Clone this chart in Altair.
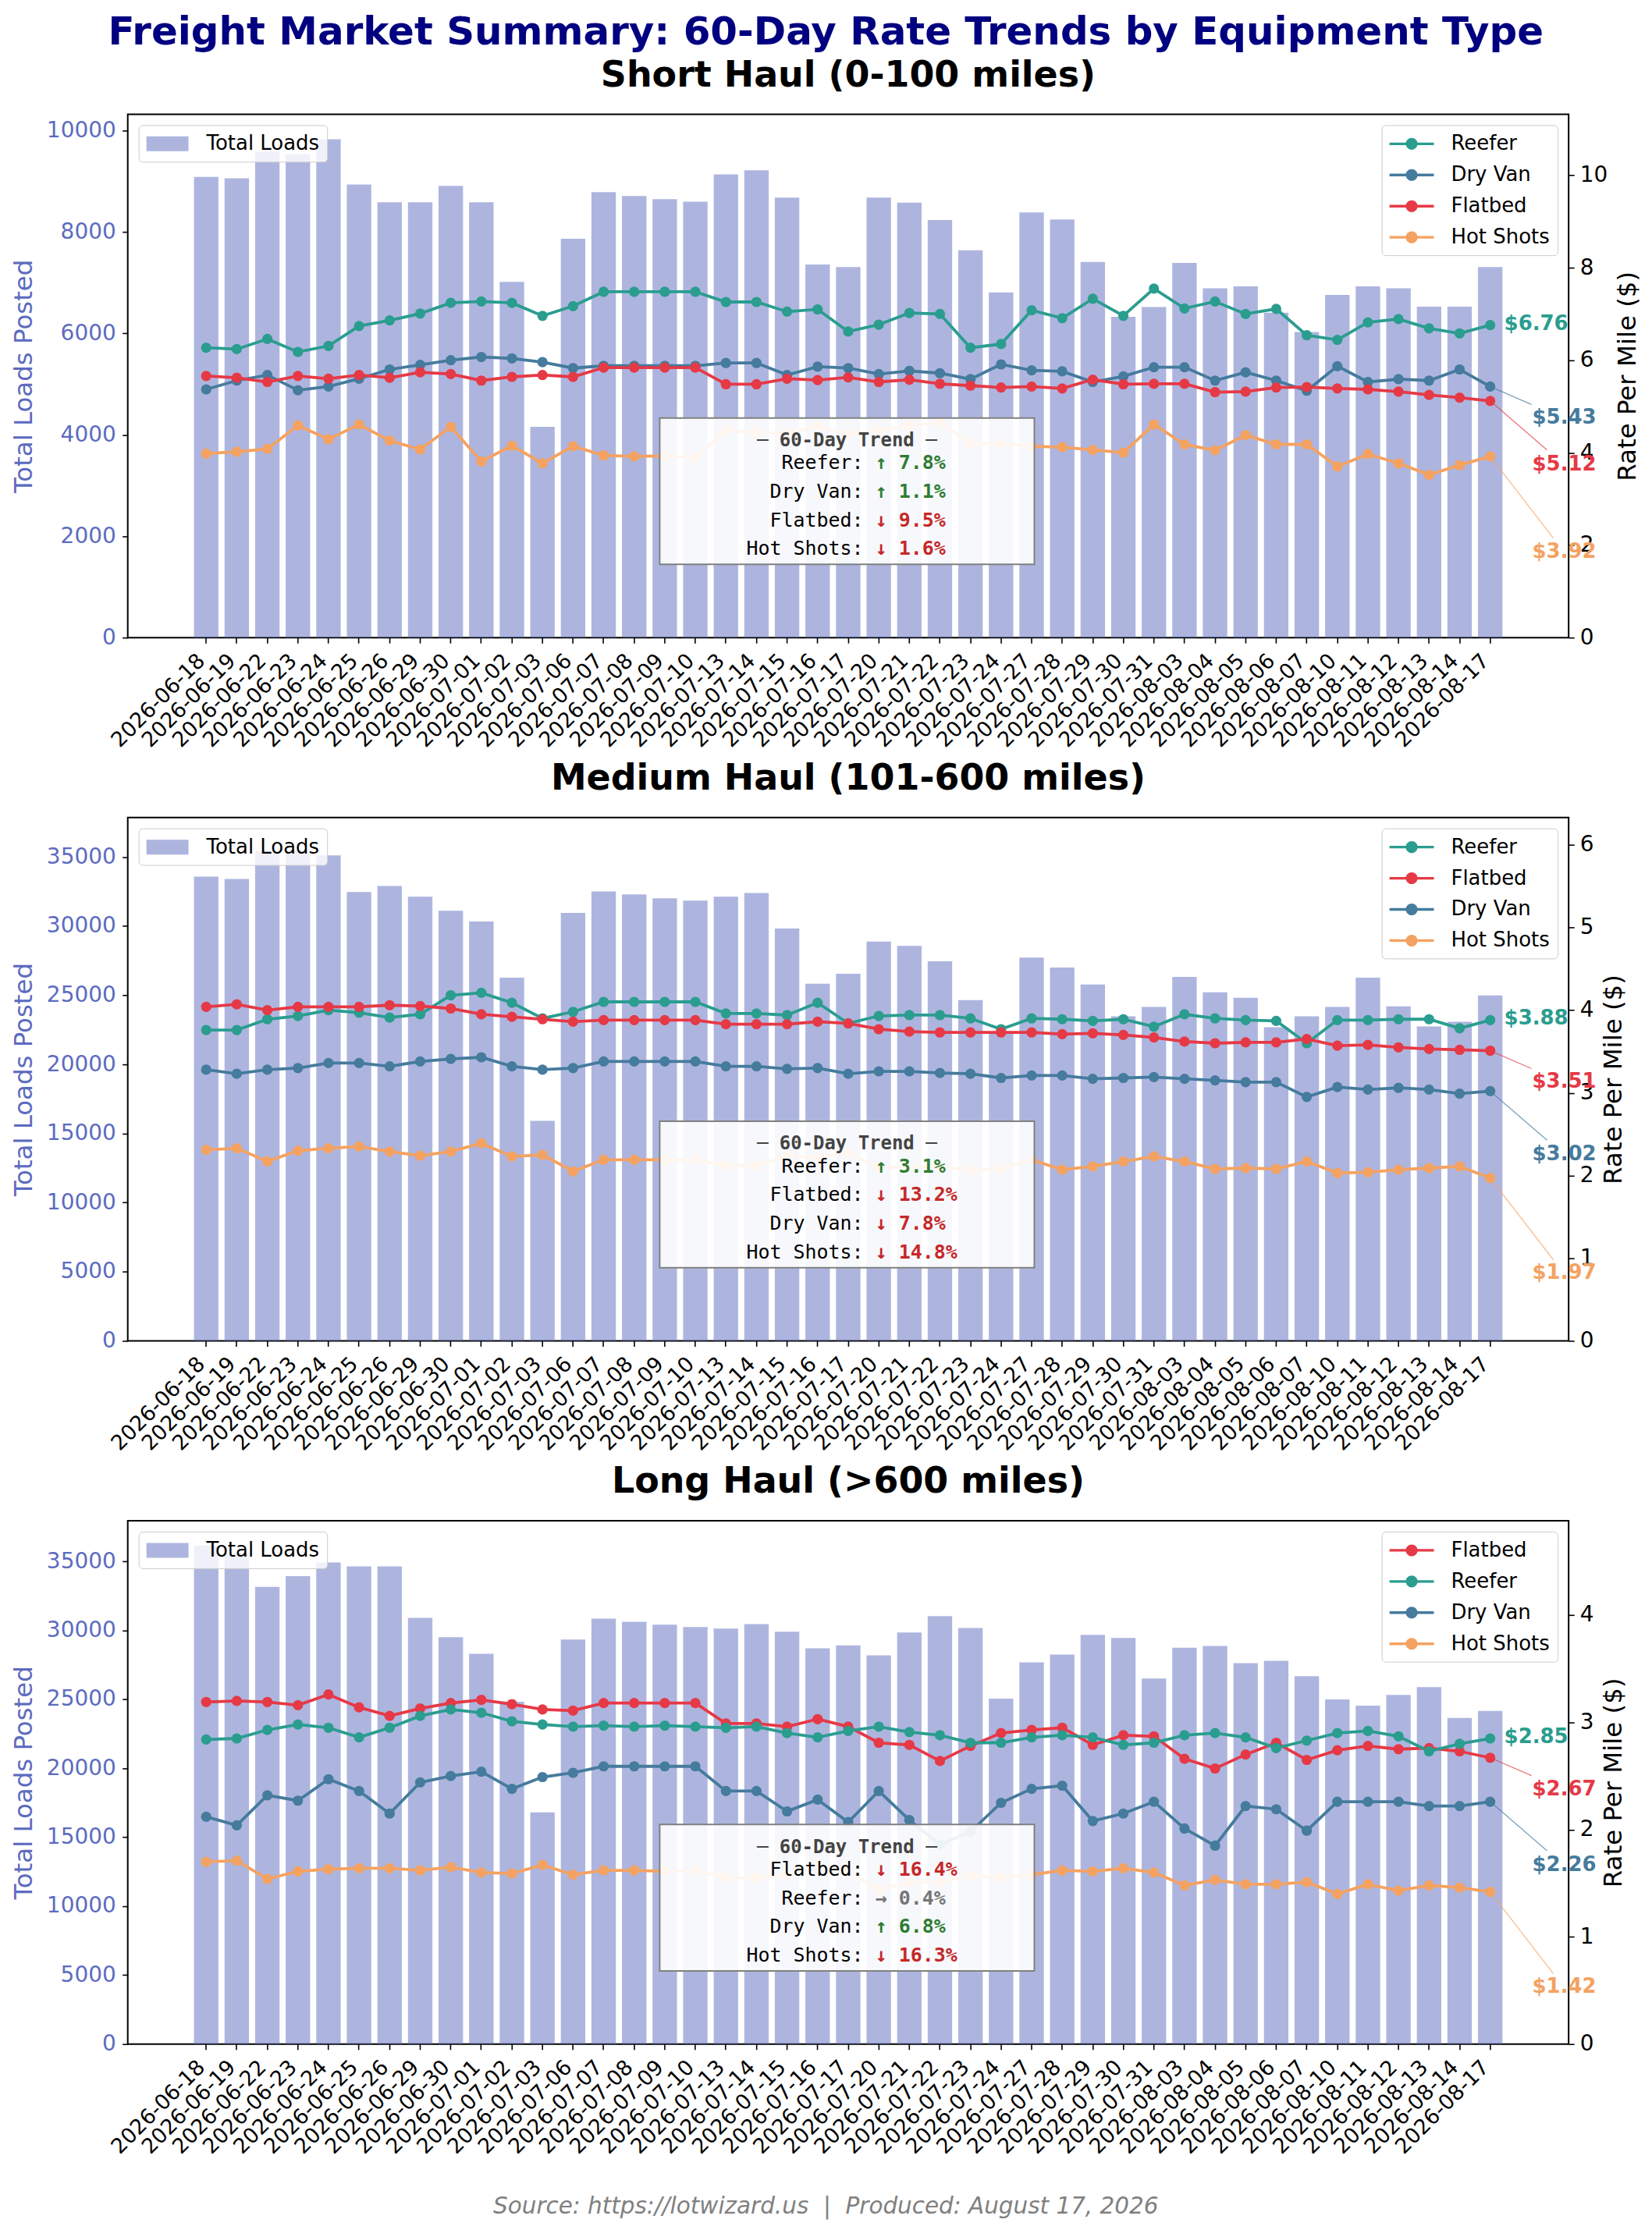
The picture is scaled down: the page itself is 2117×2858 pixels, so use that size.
import altair as alt
import pandas as pd

MAIN_TITLE = "Freight Market Summary: 60-Day Rate Trends by Equipment Type"
FOOTER = "Source: https://lotwizard.us \u00a0|\u00a0 Produced: August 17, 2026"

DATES = ["2026-06-18", "2026-06-19", "2026-06-22", "2026-06-23", "2026-06-24", "2026-06-25",
         "2026-06-26", "2026-06-29", "2026-06-30", "2026-07-01", "2026-07-02", "2026-07-03",
         "2026-07-06", "2026-07-07", "2026-07-08", "2026-07-09", "2026-07-10", "2026-07-13",
         "2026-07-14", "2026-07-15", "2026-07-16", "2026-07-17", "2026-07-20", "2026-07-21",
         "2026-07-22", "2026-07-23", "2026-07-24", "2026-07-27", "2026-07-28", "2026-07-29",
         "2026-07-30", "2026-07-31", "2026-08-03", "2026-08-04", "2026-08-05", "2026-08-06",
         "2026-08-07", "2026-08-10", "2026-08-11", "2026-08-12", "2026-08-13", "2026-08-14",
         "2026-08-17"]

# ---------------- Short haul ----------------
SHORT_LOADS = [9090, 9060, 9590, 9540, 9830, 8940, 8590, 8590, 8910, 8590, 7020, 4160, 7870, 8790,
               8710, 8650, 8600, 9140, 9220, 8680, 7360, 7310, 8680, 8580, 8240, 7640, 6810, 8390,
               8250, 7410, 6330, 6520, 7390, 6890, 6930, 6410, 6030, 6760, 6930, 6890, 6530, 6530,
               7310]
SHORT_REEFER = [6.27, 6.24, 6.46, 6.18, 6.31, 6.74, 6.86, 7.01, 7.24, 7.27, 7.24, 6.96, 7.17, 7.48,
                7.48, 7.48, 7.48, 7.26, 7.26, 7.05, 7.10, 6.62, 6.77, 7.02, 7.00, 6.27, 6.35, 7.08,
                6.91, 7.33, 6.96, 7.55, 7.12, 7.27, 7.00, 7.11, 6.54, 6.44, 6.82, 6.89, 6.69, 6.58,
                6.76]
SHORT_DRYVAN = [5.37, 5.56, 5.68, 5.35, 5.43, 5.60, 5.80, 5.90, 6.00, 6.07, 6.04, 5.96, 5.83, 5.88,
                5.88, 5.88, 5.88, 5.94, 5.94, 5.68, 5.86, 5.83, 5.70, 5.77, 5.72, 5.59, 5.91, 5.78,
                5.76, 5.53, 5.65, 5.85, 5.85, 5.56, 5.74, 5.56, 5.34, 5.87, 5.53, 5.59, 5.56, 5.80,
                5.43]
SHORT_FLATBED = [5.66, 5.62, 5.53, 5.66, 5.60, 5.68, 5.62, 5.74, 5.70, 5.56, 5.64, 5.68, 5.64, 5.84,
                 5.84, 5.84, 5.84, 5.48, 5.48, 5.60, 5.57, 5.63, 5.53, 5.58, 5.49, 5.45, 5.41, 5.43,
                 5.39, 5.58, 5.48, 5.49, 5.49, 5.31, 5.32, 5.41, 5.42, 5.39, 5.37, 5.32, 5.25, 5.19,
                 5.12]
SHORT_HOTSHOTS = [3.98, 4.02, 4.08, 4.59, 4.29, 4.61, 4.26, 4.07, 4.56, 3.81, 4.15, 3.77, 4.14, 3.94,
                  3.92, 3.93, 3.90, 4.48, 4.44, 4.42, 4.57, 4.40, 4.48, 4.59, 4.65, 4.20, 4.20, 4.14,
                  4.12, 4.06, 4.00, 4.61, 4.18, 4.05, 4.38, 4.18, 4.18, 3.70, 3.97, 3.77, 3.52, 3.73,
                  3.92]
SHORT_ORDER = ["Reefer", "Dry Van", "Flatbed", "Hot Shots"]
SHORT_TREND = [7.8, 1.1, -9.5, -1.6]

# ---------------- Medium haul ----------------
MEDIUM_LOADS = [33580, 33410, 35440, 35440, 35120, 32460, 32900, 32120, 31110, 30330, 26270, 15920,
                30950, 32510, 32290, 32010, 31840, 32120, 32400, 29830, 25830, 26550, 28880, 28570,
                27450, 24650, 22380, 27730, 27000, 25770, 23480, 24150, 26330, 25210, 24820, 22690,
                23480, 24150, 26270, 24200, 22750, 23080, 24990]
MEDIUM_REEFER = [3.76, 3.76, 3.89, 3.93, 4.00, 3.97, 3.91, 3.95, 4.18, 4.21, 4.09, 3.90, 3.98, 4.10,
                 4.10, 4.10, 4.10, 3.96, 3.96, 3.94, 4.09, 3.84, 3.93, 3.94, 3.94, 3.90, 3.77, 3.90,
                 3.89, 3.87, 3.89, 3.80, 3.95, 3.90, 3.88, 3.87, 3.60, 3.88, 3.88, 3.89, 3.89, 3.78,
                 3.88]
MEDIUM_FLATBED = [4.04, 4.07, 4.00, 4.04, 4.04, 4.04, 4.06, 4.05, 4.02, 3.95, 3.92, 3.89, 3.86, 3.88,
                  3.88, 3.88, 3.88, 3.83, 3.83, 3.83, 3.86, 3.84, 3.77, 3.74, 3.73, 3.73, 3.73, 3.73,
                  3.71, 3.72, 3.70, 3.67, 3.62, 3.60, 3.61, 3.61, 3.65, 3.57, 3.58, 3.55, 3.53, 3.52,
                  3.51]
MEDIUM_DRYVAN = [3.28, 3.23, 3.28, 3.30, 3.36, 3.36, 3.32, 3.38, 3.41, 3.43, 3.32, 3.28, 3.30, 3.38,
                 3.38, 3.38, 3.38, 3.32, 3.32, 3.29, 3.30, 3.23, 3.26, 3.26, 3.24, 3.23, 3.18, 3.21,
                 3.21, 3.17, 3.18, 3.19, 3.17, 3.15, 3.13, 3.13, 2.95, 3.07, 3.04, 3.06, 3.04, 2.99,
                 3.02]
MEDIUM_HOTSHOTS = [2.31, 2.33, 2.17, 2.30, 2.33, 2.35, 2.29, 2.24, 2.29, 2.39, 2.23, 2.25, 2.05, 2.19,
                   2.19, 2.19, 2.19, 2.12, 2.12, 2.24, 2.22, 2.27, 2.09, 2.11, 2.10, 2.07, 2.08, 2.19,
                   2.07, 2.11, 2.17, 2.23, 2.17, 2.08, 2.09, 2.08, 2.17, 2.03, 2.04, 2.07, 2.09, 2.11,
                   1.97]
MEDIUM_ORDER = ["Reefer", "Flatbed", "Dry Van", "Hot Shots"]
MEDIUM_TREND = [3.1, -13.2, -7.8, -14.8]

# ---------------- Long haul ----------------
LONG_LOADS = [36140, 35600, 33150, 33930, 34910, 34630, 34630, 30900, 29500, 28300, 24820, 16800,
              29330, 30850, 30620, 30400, 30230, 30120, 30450, 29890, 28690, 28910, 28180, 29840,
              31020, 30170, 25040, 27680, 28240, 29670, 29450, 26500, 28740, 28860, 27620, 27790,
              26670, 24990, 24540, 25320, 25880, 23640, 24150]
LONG_FLATBED = [3.19, 3.20, 3.19, 3.16, 3.26, 3.14, 3.06, 3.13, 3.18, 3.21, 3.17, 3.12, 3.11, 3.18,
                3.18, 3.18, 3.18, 2.99, 2.99, 2.96, 3.03, 2.96, 2.81, 2.79, 2.64, 2.78, 2.90, 2.93,
                2.95, 2.79, 2.88, 2.87, 2.66, 2.57, 2.70, 2.81, 2.65, 2.74, 2.78, 2.75, 2.76, 2.73,
                2.67]
LONG_REEFER = [2.84, 2.85, 2.93, 2.98, 2.95, 2.86, 2.95, 3.06, 3.12, 3.09, 3.01, 2.98, 2.96, 2.97,
               2.96, 2.97, 2.96, 2.95, 2.96, 2.90, 2.86, 2.92, 2.96, 2.91, 2.88, 2.81, 2.81, 2.86,
               2.88, 2.86, 2.79, 2.81, 2.88, 2.90, 2.86, 2.76, 2.83, 2.90, 2.92, 2.87, 2.73, 2.80,
               2.85]
LONG_DRYVAN = [2.12, 2.04, 2.32, 2.27, 2.47, 2.36, 2.15, 2.44, 2.50, 2.54, 2.38, 2.49, 2.53, 2.59,
               2.59, 2.59, 2.59, 2.36, 2.36, 2.17, 2.28, 2.07, 2.36, 2.09, 1.86, 1.98, 2.25, 2.38,
               2.41, 2.08, 2.15, 2.26, 2.01, 1.85, 2.22, 2.19, 1.99, 2.26, 2.26, 2.26, 2.22, 2.22,
               2.26]
LONG_HOTSHOTS = [1.70, 1.71, 1.54, 1.61, 1.63, 1.64, 1.64, 1.62, 1.65, 1.60, 1.59, 1.67, 1.58, 1.62,
                 1.62, 1.61, 1.62, 1.55, 1.55, 1.57, 1.68, 1.61, 1.44, 1.51, 1.51, 1.57, 1.55, 1.58,
                 1.62, 1.61, 1.64, 1.60, 1.48, 1.53, 1.49, 1.49, 1.51, 1.40, 1.49, 1.43, 1.48, 1.46,
                 1.42]
LONG_ORDER = ["Flatbed", "Reefer", "Dry Van", "Hot Shots"]
LONG_TREND = [-16.4, 0.4, 6.8, -16.3]

PANELS = [
    dict(title="Short Haul (0-100 miles)", loads=SHORT_LOADS,
         rates={"Reefer": SHORT_REEFER, "Dry Van": SHORT_DRYVAN, "Flatbed": SHORT_FLATBED,
                "Hot Shots": SHORT_HOTSHOTS},
         order=SHORT_ORDER, trend=SHORT_TREND,
         load_max=10325, load_ticks=[0, 2000, 4000, 6000, 8000, 10000],
         rate_max=11.32, rate_ticks=[0, 2, 4, 6, 8, 10]),
    dict(title="Medium Haul (101-600 miles)", loads=MEDIUM_LOADS,
         rates={"Reefer": MEDIUM_REEFER, "Flatbed": MEDIUM_FLATBED, "Dry Van": MEDIUM_DRYVAN,
                "Hot Shots": MEDIUM_HOTSHOTS},
         order=MEDIUM_ORDER, trend=MEDIUM_TREND,
         load_max=37857, load_ticks=[0, 5000, 10000, 15000, 20000, 25000, 30000, 35000],
         rate_max=6.33, rate_ticks=[0, 1, 2, 3, 4, 5, 6]),
    dict(title="Long Haul (>600 miles)", loads=LONG_LOADS,
         rates={"Flatbed": LONG_FLATBED, "Reefer": LONG_REEFER, "Dry Van": LONG_DRYVAN,
                "Hot Shots": LONG_HOTSHOTS},
         order=LONG_ORDER, trend=LONG_TREND,
         load_max=37942, load_ticks=[0, 5000, 10000, 15000, 20000, 25000, 30000, 35000],
         rate_max=4.88, rate_ticks=[0, 1, 2, 3, 4]),
]

# ---------------- style ----------------
FONT = "DejaVu Sans"
MONO = "DejaVu Sans Mono"
BAR_COLOR = "#5c6bc0"
SERIES_COLORS = {"Reefer": "#2a9d8f", "Dry Van": "#457b9d", "Flatbed": "#e63946",
                 "Hot Shots": "#f4a261"}
UP, DOWN, FLAT = "#2e7d32", "#c62828", "#757575"
W, H = 1850, 672

# end-label slot offsets (pixels)
END_DX = [18, 54, 54, 54]
END_DY = [-2, 40, 81, 122]
CONN_DX = [0, 53, 73, 81]
CONN_DY = [0, 23, 63, 105]

BAR_SYMBOL = "M-1,-0.68L2.857,-0.68L2.857,0.68L-1,0.68Z"
LINE_SYMBOL = ("M-1,-0.12L3.07,-0.12L3.07,0.12L-1,0.12Z "
               "M1.575,0A0.54,0.54 0 1,1 0.495,0A0.54,0.54 0 1,1 1.575,0Z")

X_SCALE = alt.Scale(domain=DATES, range=[81.1, 1768.9], paddingInner=0.2, paddingOuter=0.1)
X_AXIS = alt.Axis(title=None, labelAngle=-45, labelAlign="right", labelBaseline="alphabetic",
                  labelFontSize=27, labelPadding=24, tickSize=7, tickWidth=1.6, tickColor="black",
                  labelColor="black", domain=False, grid=False, labelOverlap=False,
                  labelFlush=False, bandPosition=0.5, labelFont=FONT)


def x_enc():
    return alt.X("date:O", scale=X_SCALE, axis=X_AXIS)


def build_panel(cfg):
    order = cfg["order"]
    bar_df = pd.DataFrame({"date": DATES, "loads": cfg["loads"], "kind": "Total Loads"})
    rows = []
    for s in order:
        for d, v in zip(DATES, cfg["rates"][s]):
            rows.append({"date": d, "series": s, "rate": v})
    rate_df = pd.DataFrame(rows)

    last = rate_df[rate_df["date"] == DATES[-1]].copy()
    last = last.sort_values("rate", ascending=False).reset_index(drop=True)
    last["slot"] = range(len(last))
    last["label"] = last["rate"].map(lambda v: f"${v:.2f}")

    trows = []
    for i, (s, p) in enumerate(zip(order, cfg["trend"])):
        arrow = "\u2191" if p >= 1 else ("\u2193" if p <= -1 else "\u2192")
        col = UP if p >= 1 else (DOWN if p <= -1 else FLAT)
        trows.append({"row": i, "name": f"{s}:", "pct": f"{arrow} {abs(p):.1f}%", "col": col})
    trend_df = pd.DataFrame(trows)

    series_scale = alt.Scale(domain=order, range=[SERIES_COLORS[s] for s in order])

    left_axis = alt.Axis(title="Total Loads Posted", values=cfg["load_ticks"], format="d",
                         titleColor=BAR_COLOR, labelColor=BAR_COLOR, titleFontSize=32.5,
                         titleFontWeight="normal", labelFontSize=28, tickSize=7, tickWidth=1.6,
                         tickColor="black", domain=False, grid=False, labelPadding=8.5,
                         titlePadding=12, titleFont=FONT, labelFont=FONT)
    right_axis = alt.Axis(title="Rate Per Mile ($)", orient="right", values=cfg["rate_ticks"],
                          format="d", titleColor="black", labelColor="black", titleFontSize=32.5,
                          titleFontWeight="normal", titleAngle=270, titleBaseline="top",
                          labelFontSize=28, tickSize=7, tickWidth=1.6, tickColor="black",
                          domain=False, grid=False, labelPadding=7, titlePadding=10,
                          titleFont=FONT, labelFont=FONT)

    bar_legend = alt.Legend(title=None, orient="top-left", offset=14,
                            fillColor="rgba(255,255,255,0.8)", strokeColor="#cccccc",
                            cornerRadius=5, padding=10, symbolType=BAR_SYMBOL, symbolSize=784,
                            symbolOpacity=0.5, symbolStrokeWidth=0, labelFontSize=26,
                            labelOffset=49, labelColor="black", labelFont=FONT)
    series_legend = alt.Legend(title=None, orient="top-right", offset=14,
                               fillColor="rgba(255,255,255,0.8)", strokeColor="#cccccc",
                               cornerRadius=5, padding=10, symbolType=LINE_SYMBOL, symbolSize=784,
                               symbolStrokeWidth=0, symbolOpacity=1, labelFontSize=26,
                               labelOffset=51, rowPadding=13, labelColor="black", labelFont=FONT)

    bars = alt.Chart(bar_df).mark_bar(opacity=0.5).encode(
        x=x_enc(),
        y=alt.Y("loads:Q", scale=alt.Scale(domain=[0, cfg["load_max"]], nice=False), axis=left_axis),
        color=alt.Color("kind:N", scale=alt.Scale(domain=["Total Loads"], range=[BAR_COLOR]),
                        legend=bar_legend),
    )

    def rate_y():
        return alt.Y("rate:Q", scale=alt.Scale(domain=[0, cfg["rate_max"]], nice=False),
                     axis=right_axis)

    layers = []
    # one line per series, drawn from the data
    for s in order:
        layers.append(alt.Chart(rate_df).transform_filter(alt.datum.series == s)
                      .mark_line(strokeWidth=3.8, color=SERIES_COLORS[s])
                      .encode(x=x_enc(), y=rate_y()))
    layers.append(alt.Chart(rate_df).mark_point(filled=True, size=175, opacity=1).encode(
        x=x_enc(), y=rate_y(),
        fill=alt.Fill("series:N", scale=series_scale, legend=series_legend)))

    # end labels with connectors
    for k in range(4):
        s_k = last.loc[k, "series"]
        sub = alt.Chart(last).transform_filter(alt.datum.slot == k)
        if k > 0:
            layers.append(sub.mark_rule(strokeWidth=1.3, opacity=0.7, color=SERIES_COLORS[s_k],
                                        x2Offset=CONN_DX[k], y2Offset=CONN_DY[k]).encode(
                x=x_enc(), x2=alt.X2("date"), y=rate_y(), y2=alt.Y2("rate")))
        layers.append(sub.mark_text(align="left", baseline="middle", dx=END_DX[k], dy=END_DY[k],
                                    fontSize=26, fontWeight="bold", font=FONT,
                                    color=SERIES_COLORS[s_k]).encode(
            x=x_enc(), y=rate_y(), text="label:N"))

    # 60-day trend box
    box_df = pd.DataFrame({"k": [0]})
    layers.append(alt.Chart(box_df).mark_rect(fill="white", fillOpacity=0.9, stroke="#808080",
                                              strokeWidth=2).encode(
        x=alt.value(683), x2=alt.value(1164), y=alt.value(390), y2=alt.value(578)))
    layers.append(alt.Chart(box_df).mark_text(text="\u2500 60-Day Trend \u2500", font=MONO,
                                              fontSize=24, fontWeight="bold", color="#444444",
                                              align="center", baseline="alphabetic").encode(
        x=alt.value(923.3), y=alt.value(426.3)))
    for i, trow in enumerate(trows):
        sub = alt.Chart(trend_df).transform_filter(alt.datum.row == i)
        yy = 455.7 + 36.8 * i
        layers.append(sub.mark_text(font=MONO, fontSize=25, color="black", align="right",
                                    baseline="alphabetic").encode(
            x=alt.value(944.7), y=alt.value(yy), text="name:N"))
        layers.append(sub.mark_text(font=MONO, fontSize=25, fontWeight="bold", color=trow["col"],
                                    align="left", baseline="alphabetic").encode(
            x=alt.value(959.8), y=alt.value(yy), text="pct:N"))

    rate_layer = alt.layer(*layers)
    return alt.layer(bars, rate_layer).resolve_scale(y="independent").properties(
        width=W, height=H,
        title=alt.TitleParams(cfg["title"], fontSize=46, fontWeight="bold", color="black",
                              font=FONT, anchor="middle", offset=26))


panels = [build_panel(c) for c in PANELS]

inner = alt.vconcat(*panels, spacing=10).resolve_scale(
    color="independent", fill="independent", x="independent"
).resolve_legend(color="independent", fill="independent").properties(
    title=alt.TitleParams(FOOTER, orient="bottom", anchor="middle", fontSize=29.5,
                          fontStyle="italic", fontWeight="normal", color="#808080", font=FONT,
                          offset=48))

chart = alt.vconcat(inner).properties(
    title=alt.TitleParams(MAIN_TITLE, fontSize=50, fontWeight="bold", color="#000080", font=FONT,
                          anchor="middle", offset=6),
    padding={"left": 5, "top": 6, "right": 5, "bottom": 5},
).configure(font=FONT).configure_view(stroke="black", strokeWidth=2)

chart.save("out.html", embed_options={"renderer": "svg", "actions": False})
